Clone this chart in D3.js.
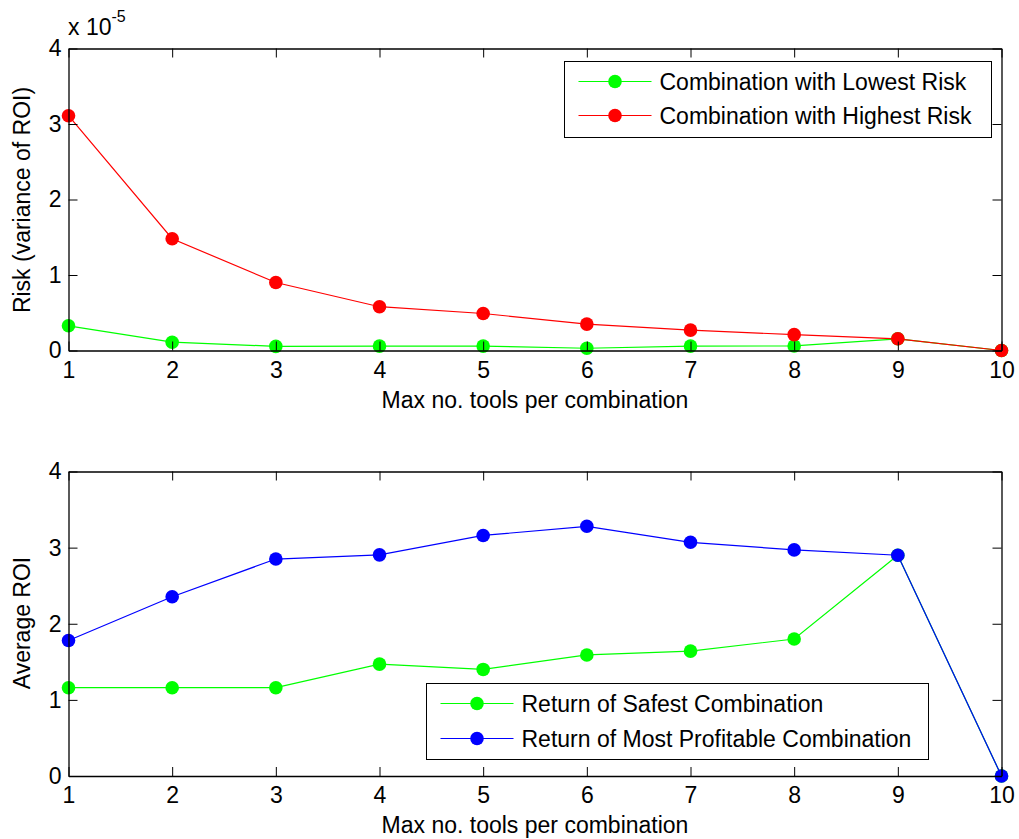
<!DOCTYPE html>
<html>
<head>
<meta charset="utf-8">
<script src="https://cdn.jsdelivr.net/npm/d3@7"></script>
<style>
  html, body { margin: 0; padding: 0; background: #fff; }
  svg { display: block; }
  text { font-family: "Liberation Sans", Arial, sans-serif; fill: #000; }
</style>
</head>
<body>
<svg id="chart" width="1019" height="839"></svg>
<script>
// x positions: maximum number of tools per combination
const maxTools = [1, 2, 3, 4, 5, 6, 7, 8, 9, 10];

// Risk (variance of ROI), in units of 1e-5
const lowestRisk  = [0.327, 0.11, 0.055, 0.058, 0.058, 0.03, 0.058, 0.06, 0.155, 0];
const highestRisk = [3.11, 1.48, 0.90, 0.58, 0.49, 0.35, 0.27, 0.21, 0.155, 0];

// Average ROI
const safestReturn     = [1.16, 1.16, 1.16, 1.47, 1.40, 1.59, 1.64, 1.80, 2.90, 0];
const profitableReturn = [1.78, 2.355, 2.85, 2.905, 3.16, 3.28, 3.07, 2.97, 2.90, 0];

const xTicks = [1, 2, 3, 4, 5, 6, 7, 8, 9, 10];
const yTicks = [0, 1, 2, 3, 4];

const svg = d3.select("#chart");
const FONT = 23;
const TICK = 9;

function drawPanel(opt) {
  const x = d3.scaleLinear().domain([1, 10]).range([opt.left, opt.right]);
  const y = d3.scaleLinear().domain([0, 4]).range([opt.bottom, opt.top]);
  const g = svg.append("g");

  // series lines and markers
  opt.series.forEach(s => {
    const pts = maxTools.map((t, i) => [t, s.values[i]]);
    g.append("path")
      .attr("d", d3.line().x(d => x(d[0])).y(d => y(d[1]))(pts))
      .attr("fill", "none").attr("stroke", s.color).attr("stroke-width", 1.2);
    g.selectAll(null).data(pts).enter().append("circle")
      .attr("cx", d => x(d[0])).attr("cy", d => y(d[1]))
      .attr("r", 6.8).attr("fill", s.color);
  });

  // axes: box with inward ticks on all four sides
  const fmt = d3.format("d");
  const axB = d3.axisBottom(x).tickValues(xTicks).tickFormat(fmt).tickSizeInner(-TICK).tickSizeOuter(0).tickPadding(11);
  const axT = d3.axisTop(x).tickValues(xTicks).tickSizeInner(-TICK).tickSizeOuter(0).tickFormat("");
  const axL = d3.axisLeft(y).tickValues(yTicks).tickFormat(fmt).tickSizeInner(-TICK).tickSizeOuter(0).tickPadding(7);
  const axR = d3.axisRight(y).tickValues(yTicks).tickSizeInner(-TICK).tickSizeOuter(0).tickFormat("");

  const styleAxis = sel => {
    sel.attr("font-size", FONT).attr("font-family", "'Liberation Sans', Arial, sans-serif");
    sel.select(".domain").attr("stroke", "#000").attr("stroke-width", 1.3);
    sel.selectAll(".tick line").attr("stroke", "#000").attr("stroke-width", 1);
    sel.selectAll(".tick text").attr("fill", "#000");
  };
  g.append("g").attr("transform", `translate(0,${opt.bottom})`).call(axB).call(styleAxis);
  g.append("g").attr("transform", `translate(0,${opt.top})`).call(axT).call(styleAxis);
  g.append("g").attr("transform", `translate(${opt.left},0)`).call(axL).call(styleAxis);
  g.append("g").attr("transform", `translate(${opt.right},0)`).call(axR).call(styleAxis);

  // axis titles
  g.append("text")
    .attr("x", (opt.left + opt.right) / 2).attr("y", opt.bottom + 57)
    .attr("text-anchor", "middle").style("font-size", FONT + "px")
    .text("Max no. tools per combination");
  g.append("text")
    .attr("transform", `translate(30,${opt.yLabelMid}) rotate(-90)`)
    .attr("text-anchor", "middle").style("font-size", FONT + "px")
    .text(opt.yLabel);

  // legend
  const L = opt.legend;
  const lg = g.append("g");
  lg.append("rect")
    .attr("x", L.x).attr("y", L.y).attr("width", L.w).attr("height", L.h)
    .attr("fill", "#fff").attr("stroke", "#000").attr("stroke-width", 1);
  opt.series.forEach((s, i) => {
    const cy = L.y + L.row0 + i * L.gap;
    lg.append("line")
      .attr("x1", L.x + L.lineX0).attr("x2", L.x + L.lineX1)
      .attr("y1", cy).attr("y2", cy)
      .attr("stroke", s.color).attr("stroke-width", 1.2);
    lg.append("circle")
      .attr("cx", L.x + (L.lineX0 + L.lineX1) / 2).attr("cy", cy)
      .attr("r", 6.8).attr("fill", s.color);
    lg.append("text")
      .attr("x", L.x + L.textX).attr("y", cy + 8)
      .style("font-size", FONT + "px").text(s.name);
  });
  return g;
}

drawPanel({
  left: 68.5, right: 1001.5, top: 48.5, bottom: 350.5,
  yLabel: "Risk (variance of ROI)", yLabelMid: 200,
  series: [
    { name: "Combination with Lowest Risk",  values: lowestRisk,  color: "#00ff00" },
    { name: "Combination with Highest Risk", values: highestRisk, color: "#ff0000" }
  ],
  legend: { x: 564.5, y: 61.5, w: 427, h: 76, row0: 20, gap: 34, lineX0: 14, lineX1: 87, textX: 95 }
});

// scale factor annotation for the upper panel
const expo = svg.append("text").attr("x", 68).attr("y", 35).style("font-size", FONT + "px");
expo.append("tspan").text("x 10");
expo.append("tspan").attr("dy", -13).style("font-size", "16px").text("-5");

drawPanel({
  left: 68.5, right: 1001.5, top: 471.5, bottom: 776,
  yLabel: "Average ROI", yLabelMid: 623,
  series: [
    { name: "Return of Safest Combination",          values: safestReturn,     color: "#00ff00" },
    { name: "Return of Most Profitable Combination", values: profitableReturn, color: "#0000ff" }
  ],
  legend: { x: 426.5, y: 683.5, w: 502, h: 76, row0: 20, gap: 35, lineX0: 14, lineX1: 87, textX: 95 }
});
</script>
</body>
</html>
